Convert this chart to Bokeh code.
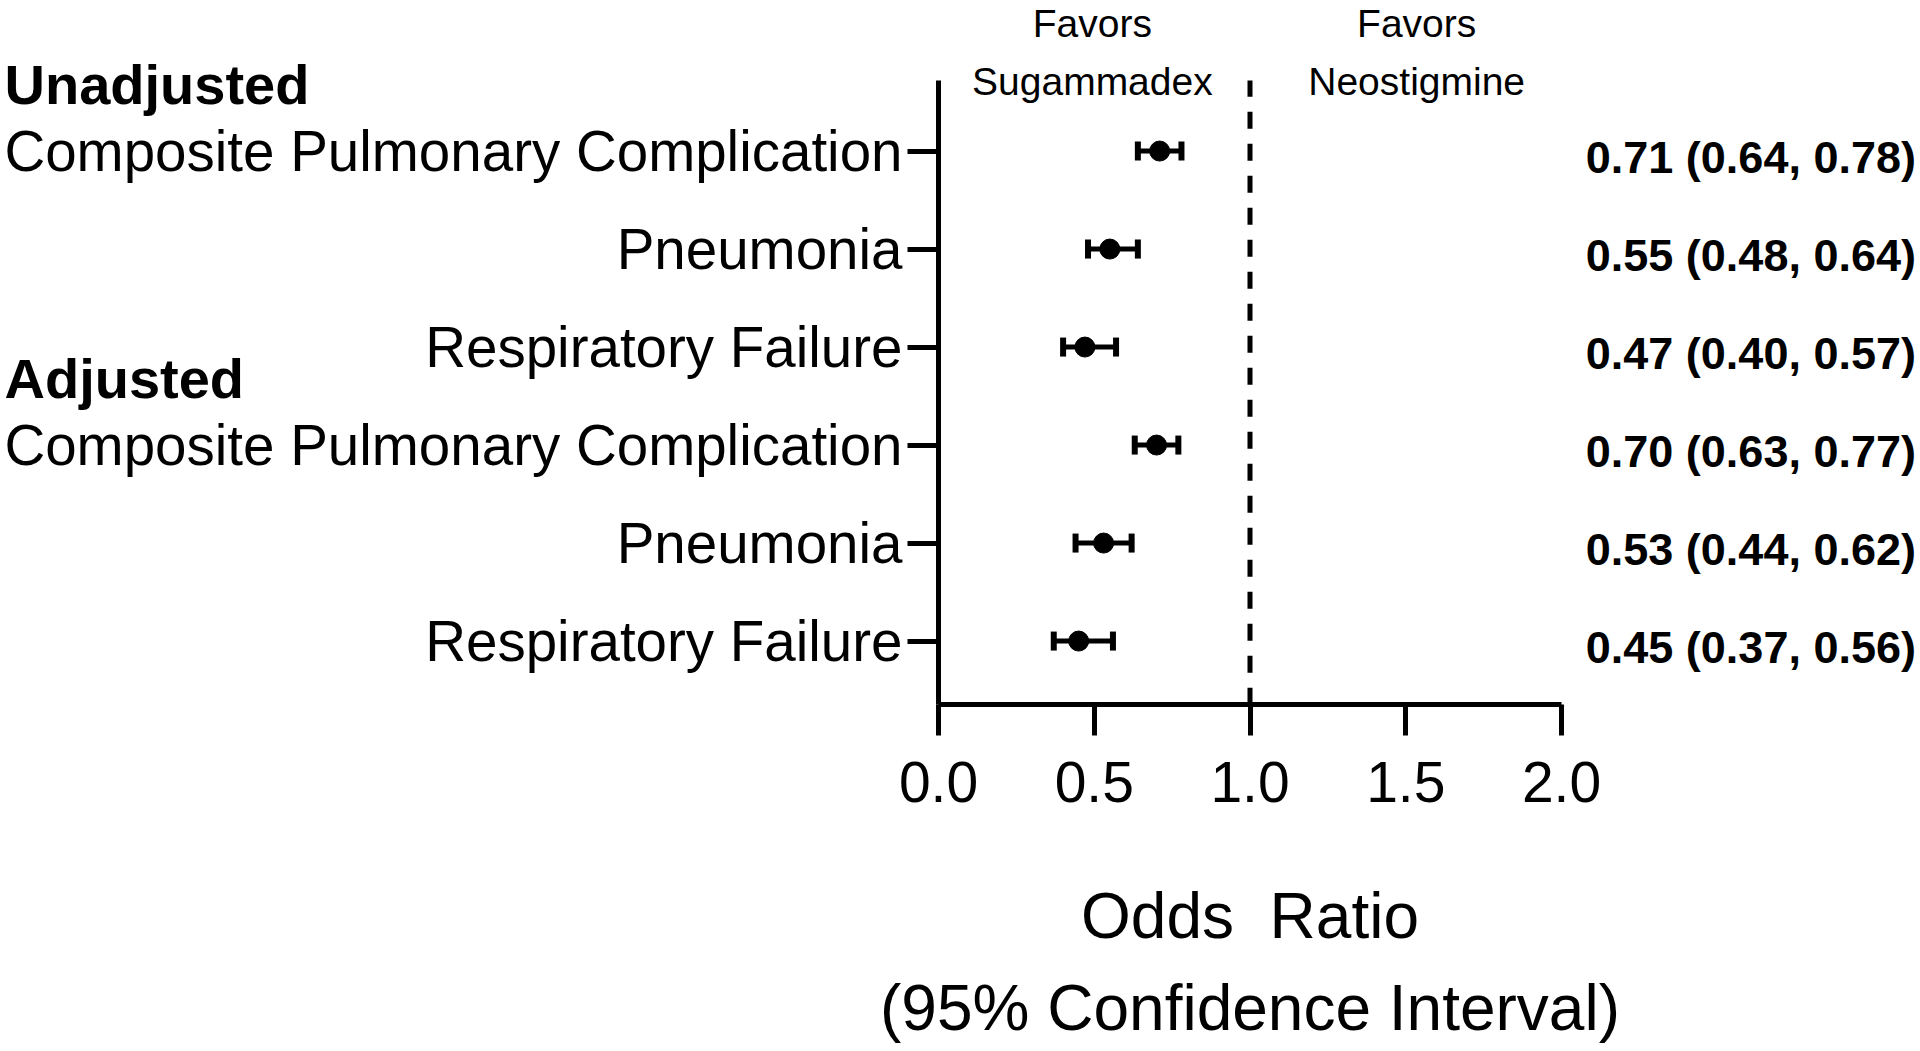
from bokeh.plotting import figure
from bokeh.models import (ColumnDataSource, FixedTicker, Whisker, TeeHead,
                          Label, LabelSet, Range1d)
from bokeh.embed import file_html
from bokeh.resources import INLINE
from bokeh.core.properties import value

# ---------------- data ----------------
groups = ["Unadjusted", "Adjusted"]
group_first_row = [0, 3]
outcomes = ["Composite Pulmonary Complication", "Pneumonia", "Respiratory Failure",
            "Composite Pulmonary Complication", "Pneumonia", "Respiratory Failure"]
odds_ratio = [0.71, 0.55, 0.47, 0.70, 0.53, 0.45]
ci_lower = [0.64, 0.48, 0.40, 0.63, 0.44, 0.37]
ci_upper = [0.78, 0.64, 0.57, 0.77, 0.62, 0.56]
x_ticks = [0.0, 0.5, 1.0, 1.5, 2.0]
x_tick_labels = ["0.0", "0.5", "1.0", "1.5", "2.0"]
null_value = 1.0
favors_left = ["Favors", "Sugammadex"]
favors_right = ["Favors", "Neostigmine"]
axis_title = ["Odds\u00a0 Ratio", "(95% Confidence Interval)"]

# ---------------- derived ----------------
n = len(outcomes)
row_y = [float(n - i) for i in range(n)]
summary = [f"{o:.2f} ({l:.2f}, {u:.2f})" for o, l, u in zip(odds_ratio, ci_lower, ci_upper)]

# ---------------- layout (pixels of the plot canvas) ----------------
W, H = 1916, 1048
AX_LEFT_PX, PX_PER_X = 938.0, 311.5          # x = 0 at canvas px 938
X_LO, X_HI = x_ticks[0], x_ticks[-1]
Y_LO, Y_HI = 0.35, 6.72                       # axis extent in data units
AX_TOP_PX, PX_PER_Y = 80.0, 98.0              # y = Y_HI at canvas px 80

x_start = X_LO - AX_LEFT_PX / PX_PER_X
x_end = x_start + W / PX_PER_X
y_end = Y_HI + AX_TOP_PX / PX_PER_Y
y_start = y_end - H / PX_PER_Y


def y_for_baseline(px, size):
    """data y for a Label whose text baseline should sit at canvas pixel px"""
    return Y_HI - (px - 0.3465 * size - AX_TOP_PX) / PX_PER_Y


SANS = "Liberation Sans"
src = ColumnDataSource(dict(y=row_y, ty=[y - 22.0 / PX_PER_Y for y in row_y], orr=odds_ratio,
                            lo=ci_lower, hi=ci_upper, summary=summary))

p = figure(width=W, height=H, x_range=Range1d(x_start, x_end), y_range=Range1d(y_start, y_end),
           output_backend="svg", toolbar_location=None, min_border=0)
p.xgrid.visible = False
p.ygrid.visible = False
p.outline_line_color = None
p.background_fill_color = "white"
p.border_fill_color = "white"

for ax in (p.xaxis[0], p.yaxis[0]):
    ax.axis_line_width = 5
    ax.axis_line_color = "black"
    ax.major_tick_line_width = 5
    ax.major_tick_line_color = "black"
    ax.major_tick_in = 0
    ax.major_tick_out = 31
    ax.minor_tick_line_color = None
    ax.major_label_text_font = SANS
    ax.major_label_text_color = "black"

p.xaxis.fixed_location = Y_LO
p.xaxis.bounds = (X_LO, X_HI)
p.xaxis.ticker = FixedTicker(ticks=x_ticks)
p.xaxis.major_label_overrides = {t: s for t, s in zip(x_ticks, x_tick_labels)}
p.xaxis.major_label_standoff = 26
p.xaxis.major_label_text_font_size = "57px"

p.yaxis.fixed_location = X_LO
p.yaxis.bounds = (Y_LO, Y_HI)
p.yaxis.ticker = FixedTicker(ticks=row_y)
p.yaxis.major_label_overrides = {y: s for y, s in zip(row_y, outcomes)}
p.yaxis.major_label_standoff = 5
p.yaxis.major_label_text_font_size = "56.5px"

# reference line at OR = 1
p.segment(x0=[null_value], y0=[Y_LO], x1=[null_value], y1=[Y_HI], line_color="black",
          line_width=5, line_dash="17 15")

# confidence intervals
p.add_layout(Whisker(source=src, base="y", lower="lo", upper="hi", dimension="width",
                     line_width=5, line_color="black",
                     lower_head=TeeHead(size=19, line_width=6, line_color="black"),
                     upper_head=TeeHead(size=19, line_width=6, line_color="black")))
p.scatter("orr", "y", source=src, size=20, color="black")

# right column of estimates
p.add_layout(LabelSet(x=value(3.138), y="ty", text="summary", source=src,
                      text_font=value(SANS), text_font_style="bold",
                      text_font_size="45px", text_align="right",
                      text_baseline="alphabetic", text_color="black"))

# group headers
HEADER_SIZE = 56
for g, r in zip(groups, group_first_row):
    row_px = AX_TOP_PX + (Y_HI - row_y[r]) * PX_PER_Y
    p.add_layout(Label(x=4, x_units="screen", y=y_for_baseline(row_px - 47, HEADER_SIZE), text=g,
                       text_font=SANS, text_font_style="bold", text_font_size=f"{HEADER_SIZE}px",
                       text_align="left", text_baseline="alphabetic", text_color="black"))

# favors annotations
FAV_SIZE = 39
for xc, lines in ((0.494, favors_left), (1.535, favors_right)):
    for bpx, t in zip((37, 95), lines):
        p.add_layout(Label(x=xc, y=y_for_baseline(bpx, FAV_SIZE), text=t, text_font=SANS,
                           text_font_size=f"{FAV_SIZE}px", text_align="center",
                           text_baseline="alphabetic", text_color="black"))

# x axis title (two lines)
TITLE_SIZE = 64
for bpx, t in zip((938, 1030), axis_title):
    p.add_layout(Label(x=(X_LO + X_HI) / 2, y=y_for_baseline(bpx, TITLE_SIZE), text=t,
                       text_font=SANS, text_font_size=f"{TITLE_SIZE}px",
                       text_align="center", text_baseline="alphabetic", text_color="black"))

open("out.html", "w").write(file_html(p, INLINE))
